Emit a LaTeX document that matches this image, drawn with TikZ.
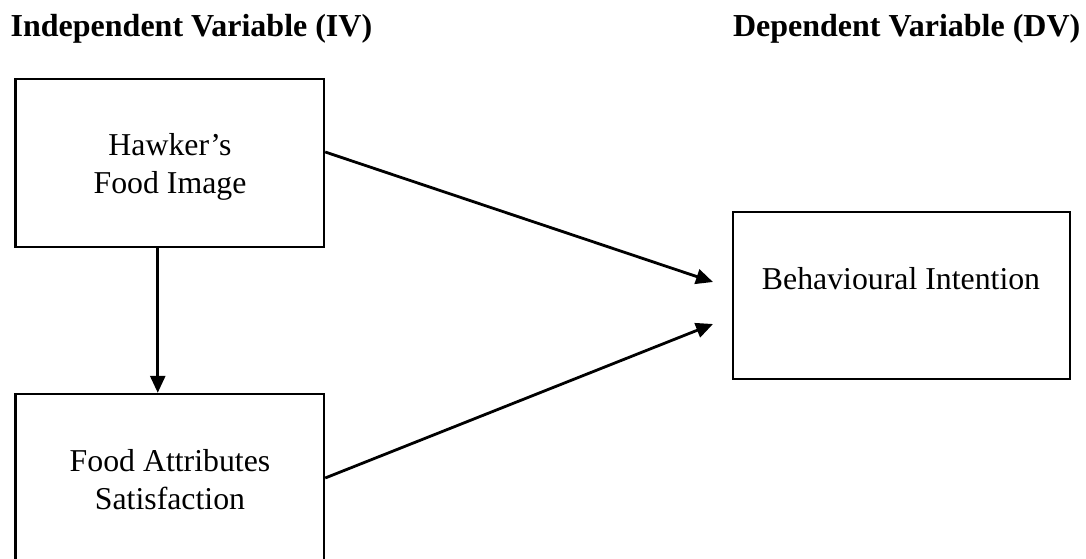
\documentclass[tikz,border=0pt]{standalone}
\usepackage{fontspec}
\setmainfont{Liberation Serif}
\usetikzlibrary{arrows.meta}
\begin{document}
\begin{tikzpicture}[x=1pt,y=-1pt,
  boxstyle/.style={draw=black,line width=2.4pt,inner sep=0pt},
  txt/.style={font=\fontsize{31.8}{38}\selectfont,align=center,inner sep=0pt},
  hdr/.style={font=\fontsize{32}{38}\selectfont\bfseries,inner sep=0pt},
  arr/.style={line width=2.8pt,-{Triangle[length=17pt,width=15pt]}}]
\useasboundingbox (0,0) rectangle (1086,559);
\clip (0,0) rectangle (1086,559);
% headers
\node[hdr,anchor=base west] (hiv) at (10.5,36.5) {Independent Variable (IV)};
\node[hdr,anchor=base east] (hdv) at (1080.5,36.5) {Dependent Variable (DV)};
% boxes
\node[boxstyle,minimum width=308.5pt,minimum height=168pt] (hfi) at (169.75,163) {};
\node[boxstyle,minimum width=308.5pt,minimum height=178pt] (fas) at (169.75,483) {};
\node[boxstyle,minimum width=337pt,minimum height=167pt] (bi) at (901.5,295.5) {};
% texts
\node[txt] (hfit) at (170,166.5) {Hawker’s\\Food Image};
\node[txt] (fast) at (170,479.5) {Food Attributes\\Satisfaction};
\node[txt] (bit) at (901,279) {Behavioural Intention};
% arrow ends
\coordinate (t1) at (713,282);
\coordinate (t2) at (713,324);
% connectors
\draw[arr] ([yshift=11pt]hfi.east) -- (t1);
\draw[arr] ([yshift=5pt]fas.east) -- (t2);
\draw[arr] ([xshift=-12pt]hfi.south) -- ([xshift=-12pt]fas.north);
\end{tikzpicture}
\end{document}
